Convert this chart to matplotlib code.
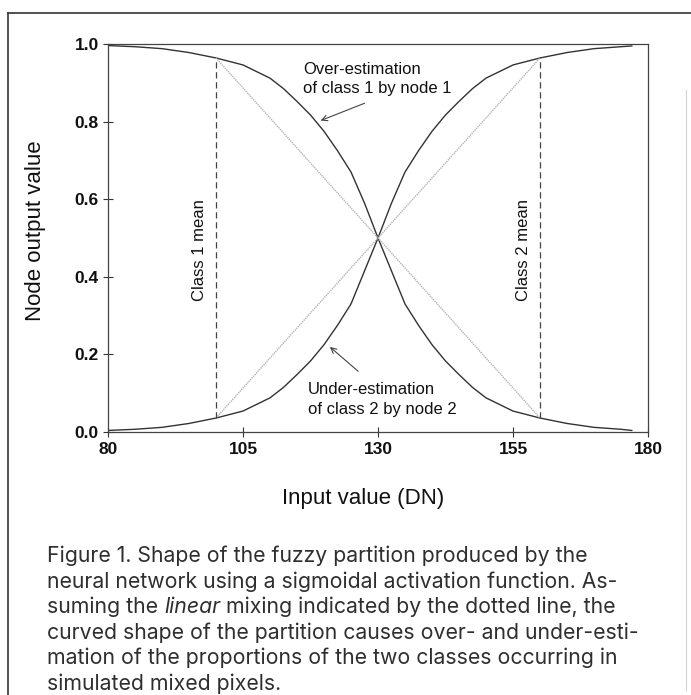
import matplotlib
matplotlib.use("Agg")
import matplotlib.pyplot as plt
from matplotlib.lines import Line2D

# Salida de los nodos de la red (particion difusa) frente al valor de entrada
entrada = [80, 85, 90, 95, 100, 105, 110, 112.5, 115, 117.5, 120, 122.5, 125, 127.5,
           130, 132.5, 135, 137.5, 140, 142.5, 145, 147.5, 150, 155, 160, 165, 170, 175, 177]
nodo_1 = [0.996, 0.993, 0.988, 0.978, 0.964, 0.946, 0.912, 0.885, 0.852, 0.817, 0.775, 0.725,
          0.670, 0.590, 0.500, 0.415, 0.330, 0.275, 0.225, 0.183, 0.148, 0.115, 0.088, 0.054,
          0.036, 0.022, 0.012, 0.007, 0.004]
nodo_2 = [0.004, 0.007, 0.012, 0.022, 0.036, 0.054, 0.088, 0.115, 0.148, 0.183, 0.225, 0.275,
          0.330, 0.415, 0.500, 0.590, 0.670, 0.725, 0.775, 0.817, 0.852, 0.885, 0.912, 0.946,
          0.964, 0.978, 0.988, 0.993, 0.995]

# Mezcla lineal entre las medias de las clases
medias = [100, 160]
lineal_1 = [0.964, 0.036]
lineal_2 = [0.036, 0.964]
etiquetas_medias = ["Class 1 mean", "Class 2 mean"]

ticks_x = [80, 105, 130, 155, 180]
ticks_y = [0.0, 0.2, 0.4, 0.6, 0.8, 1.0]

plt.rcParams["font.family"] = ["Liberation Sans", "DejaVu Sans"]

W, H = 691, 695
fig = plt.figure(figsize=(W / 100, H / 100), dpi=100)
ax = fig.add_axes([108 / W, 1 - 432 / H, 540 / W, 388 / H])

# Curvas sigmoidales
ax.plot(entrada, nodo_1, color="#333333", lw=1.0)
ax.plot(entrada, nodo_2, color="#333333", lw=1.0)

# Lineas de mezcla lineal (punteadas)
ax.plot(medias, lineal_1, color="#b4b4b4", lw=1.0, linestyle=(0, (1, 0.6)))
ax.plot(medias, lineal_2, color="#b4b4b4", lw=1.0, linestyle=(0, (1, 0.6)))

# Medias de clase
for m, lo, hi, etiqueta in zip(medias, lineal_2, lineal_1, etiquetas_medias):
    ax.plot([m, m], [min(lo, hi), max(lo, hi)], color="#444444", lw=0.9,
            linestyle=(0, (5, 3)))
    ax.text(m - 3.0, 0.47, etiqueta, rotation=90, ha="center", va="center",
            fontsize=12, color="#111111")

# Anotaciones
ax.text(116.1, 0.91, "Over-estimation\nof class 1 by node 1", ha="left", va="center",
        fontsize=12, color="#111111", linespacing=1.3)
ax.annotate("", xy=(118.9, 0.80), xytext=(128.0, 0.85),
            arrowprops=dict(arrowstyle="->", color="#444444", lw=0.8))
ax.text(117.0, 0.083, "Under-estimation\nof class 2 by node 2", ha="left", va="center",
        fontsize=12, color="#111111", linespacing=1.4)
ax.annotate("", xy=(120.7, 0.224), xytext=(126.7, 0.152),
            arrowprops=dict(arrowstyle="->", color="#444444", lw=0.8))

ax.set_xlim(80, 180)
ax.set_ylim(0, 1)
ax.set_xticks(ticks_x)
ax.set_xticklabels([str(t) for t in ticks_x], fontweight="bold")
ax.set_yticks(ticks_y)
ax.set_yticklabels([f"{t:.1f}" for t in ticks_y], fontweight="bold")
ax.tick_params(axis="both", direction="inout", length=7, width=0.8, colors="#333333",
               labelsize=12.5, labelcolor="#111111")
ax.tick_params(axis="x", pad=4)
ax.tick_params(axis="y", pad=3)
for lado in ax.spines.values():
    lado.set_color("#444444")
    lado.set_linewidth(0.9)

ax.set_xlabel("Input value (DN)", fontsize=16, color="#111111")
ax.xaxis.set_label_coords((363 - 108) / 540, (432 - 488) / 388)
ax.set_ylabel("Node output value", fontsize=16, color="#111111")
ax.yaxis.set_label_coords((46 - 108) / 540, (432 - 231) / 388)

# Marco de la figura
fig.add_artist(Line2D([8 / W, 8 / W], [0, 1 - 13 / H], transform=fig.transFigure,
                      color="#333333", lw=1.2))
fig.add_artist(Line2D([8 / W, 1], [1 - 13 / H, 1 - 13 / H], transform=fig.transFigure,
                      color="#333333", lw=1.2))
fig.add_artist(Line2D([686 / W, 686 / W], [1 - 690 / H, 1 - 90 / H], transform=fig.transFigure,
                      color="#d4d4d4", lw=0.8))

# Pie de figura
fuente_pie = ["Inter", "Liberation Sans", "DejaVu Sans"]
lineas = [
    [("Figure 1. Shape of the fuzzy partition produced by the", "normal")],
    [("neural network using a sigmoidal activation function. As-", "normal")],
    [("suming the ", "normal"), ("linear", "italic"), (" mixing indicated by the dotted line, the", "normal")],
    [("curved shape of the partition causes over- and under-esti-", "normal")],
    [("mation of the proportions of the two classes occurring in", "normal")],
    [("simulated mixed pixels.", "normal")],
]
renderer = fig.canvas.get_renderer()

# tamano de letra ajustado para que la cuarta linea ocupe ~593 px
prueba = fig.text(0, 0, lineas[3][0][0], fontsize=14, family=fuente_pie)
tam = 14 * 593 / prueba.get_window_extent(renderer).width
prueba.remove()

y0 = 556
for i, partes in enumerate(lineas):
    x = 47
    for texto, estilo in partes:
        t = fig.text(x / W, 1 - (y0 + i * 25.5) / H, texto, fontsize=tam, style=estilo,
                     family=fuente_pie, color="#2f2f2f", ha="left", va="center")
        x += t.get_window_extent(renderer).width

fig.savefig("out.png", dpi=100, facecolor="white")
